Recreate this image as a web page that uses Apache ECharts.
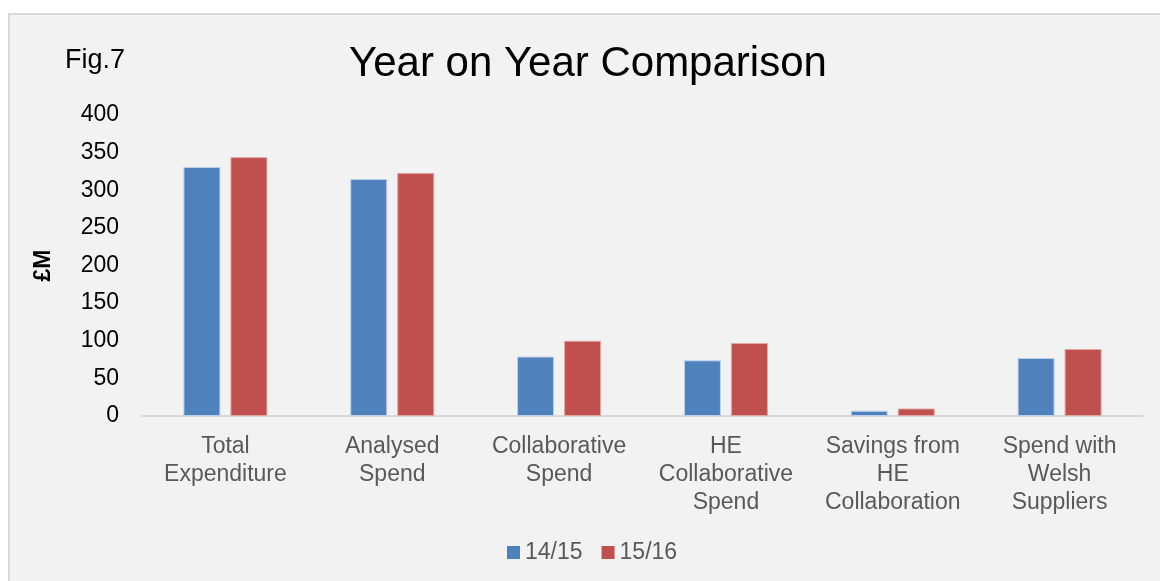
<!DOCTYPE html>
<html>
<head>
<meta charset="utf-8">
<script src="https://cdn.jsdelivr.net/npm/echarts@6/dist/echarts.min.js"></script>
<style>
  html, body { margin: 0; padding: 0; background: #fff; }
  #chart { width: 1160px; height: 581px; }
</style>
</head>
<body>
<div id="chart"></div>
<script>
// data
const categories = [
  'Total\nExpenditure',
  'Analysed\nSpend',
  'Collaborative\nSpend',
  'HE\nCollaborative\nSpend',
  'Savings from\nHE\nCollaboration',
  'Spend with\nWelsh\nSuppliers'
]
const values1415 = [331, 315, 79, 74, 7, 77]
const values1516 = [344, 323, 100, 97, 10, 89]
const seriesNames = ['14/15', '15/16']

const chart = echarts.init(document.getElementById('chart'))

const option = {
  backgroundColor: '#fff',
  animation: false,
  textStyle: { fontFamily: 'Liberation Sans, Arial, sans-serif' },
  graphic: [
    {
      // panel background
      type: 'rect',
      left: 8,
      top: 13,
      shape: { width: 1160, height: 580 },
      style: { fill: '#f2f2f2', stroke: '#d9d9d9', lineWidth: 2 },
      z: -10
    },
    {
      type: 'text',
      left: 65,
      top: 47,
      style: { text: 'Fig.7', fontSize: 27, fill: '#000', fontFamily: 'Liberation Sans, Arial, sans-serif' }
    }
  ],
  title: {
    text: 'Year on Year Comparison',
    left: 344,
    top: 38,
    textStyle: { fontSize: 42, fontWeight: 'normal', color: '#000', fontFamily: 'Liberation Sans, Arial, sans-serif' }
  },
  legend: {
    bottom: 12,
    left: 502,
    icon: 'rect',
    itemWidth: 13,
    itemHeight: 13,
    itemGap: 19,
    itemStyle: { borderWidth: 0 },
    textStyle: { fontSize: 23, color: '#595959' },
    data: seriesNames
  },
  grid: {
    left: 142,
    right: 17,
    top: 115,
    bottom: 165
  },
  xAxis: {
    type: 'category',
    data: categories,
    axisLine: { lineStyle: { color: '#d9d9d9', width: 2 } },
    axisTick: { show: false },
    axisLabel: {
      interval: 0,
      fontSize: 23,
      color: '#595959',
      lineHeight: 28,
      margin: 17
    }
  },
  yAxis: {
    type: 'value',
    min: 0,
    max: 400,
    interval: 50,
    name: '£M',
    nameLocation: 'middle',
    nameGap: 87,
    nameRotate: 90,
    nameTextStyle: { fontSize: 23, fontWeight: 'bold', color: '#000' },
    axisLine: { show: false },
    axisTick: { show: false },
    splitLine: { show: false },
    axisLabel: { fontSize: 23, color: '#000', margin: 23 }
  },
  series: [
    {
      name: seriesNames[0],
      type: 'bar',
      data: values1415,
      barWidth: 37,
      barGap: '27%',
      itemStyle: { color: '#4f81bd', borderColor: '#bcd0ea', borderWidth: 1 }
    },
    {
      name: seriesNames[1],
      type: 'bar',
      data: values1516,
      barWidth: 37,
      itemStyle: { color: '#c0504d', borderColor: '#e0a6a4', borderWidth: 1 }
    }
  ]
}
chart.setOption(option)
</script>
</body>
</html>
